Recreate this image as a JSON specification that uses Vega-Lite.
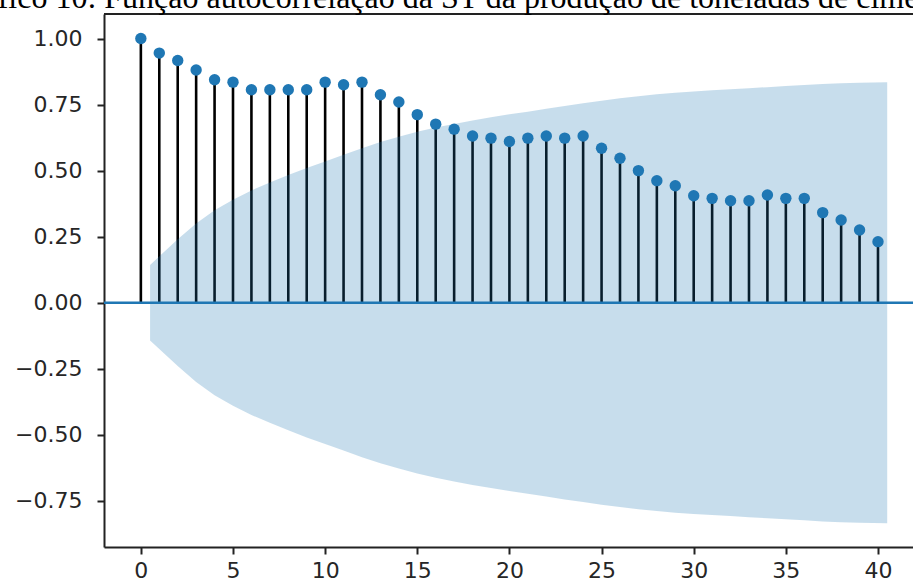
{
  "$schema": "https://vega.github.io/schema/vega-lite/v6.json",
  "autosize": {"type": "none"},
  "width": 809,
  "height": 533,
  "padding": {"left": 104, "top": 14, "right": 0, "bottom": 39},
  "background": "white",
  "title": {
    "text": "Gráfico 10: Função autocorrelação da ST da produção de toneladas de cimento",
    "font": "Liberation Serif",
    "fontSize": 32,
    "fontWeight": "normal",
    "color": "#000000",
    "anchor": "middle",
    "baseline": "alphabetic",
    "offset": -27,
    "dx": -54
  },
  "datasets": {
    "acf": [
      {"lag": 0, "acf": 1.0},
      {"lag": 1, "acf": 0.945},
      {"lag": 2, "acf": 0.917},
      {"lag": 3, "acf": 0.881},
      {"lag": 4, "acf": 0.844},
      {"lag": 5, "acf": 0.835},
      {"lag": 6, "acf": 0.806},
      {"lag": 7, "acf": 0.806},
      {"lag": 8, "acf": 0.806},
      {"lag": 9, "acf": 0.806},
      {"lag": 10, "acf": 0.835},
      {"lag": 11, "acf": 0.825},
      {"lag": 12, "acf": 0.835},
      {"lag": 13, "acf": 0.787},
      {"lag": 14, "acf": 0.76},
      {"lag": 15, "acf": 0.712},
      {"lag": 16, "acf": 0.676},
      {"lag": 17, "acf": 0.657},
      {"lag": 18, "acf": 0.631},
      {"lag": 19, "acf": 0.623},
      {"lag": 20, "acf": 0.61},
      {"lag": 21, "acf": 0.623},
      {"lag": 22, "acf": 0.631},
      {"lag": 23, "acf": 0.623},
      {"lag": 24, "acf": 0.631},
      {"lag": 25, "acf": 0.585},
      {"lag": 26, "acf": 0.547},
      {"lag": 27, "acf": 0.5},
      {"lag": 28, "acf": 0.462},
      {"lag": 29, "acf": 0.443},
      {"lag": 30, "acf": 0.405},
      {"lag": 31, "acf": 0.395},
      {"lag": 32, "acf": 0.386},
      {"lag": 33, "acf": 0.386},
      {"lag": 34, "acf": 0.408},
      {"lag": 35, "acf": 0.395},
      {"lag": 36, "acf": 0.395},
      {"lag": 37, "acf": 0.341},
      {"lag": 38, "acf": 0.313},
      {"lag": 39, "acf": 0.275},
      {"lag": 40, "acf": 0.231}
    ],
    "band": [
      {"lag": 0.5, "hi": 0.143, "lo": -0.143},
      {"lag": 2, "hi": 0.24, "lo": -0.24},
      {"lag": 3, "hi": 0.3, "lo": -0.3},
      {"lag": 4, "hi": 0.35, "lo": -0.35},
      {"lag": 5, "hi": 0.39, "lo": -0.39},
      {"lag": 6, "hi": 0.425, "lo": -0.425},
      {"lag": 7, "hi": 0.455, "lo": -0.455},
      {"lag": 8, "hi": 0.483, "lo": -0.483},
      {"lag": 9, "hi": 0.51, "lo": -0.51},
      {"lag": 10, "hi": 0.535, "lo": -0.535},
      {"lag": 11, "hi": 0.56, "lo": -0.56},
      {"lag": 12, "hi": 0.585, "lo": -0.585},
      {"lag": 13, "hi": 0.608, "lo": -0.608},
      {"lag": 14, "hi": 0.628, "lo": -0.628},
      {"lag": 15, "hi": 0.647, "lo": -0.647},
      {"lag": 16, "hi": 0.663, "lo": -0.663},
      {"lag": 17, "hi": 0.677, "lo": -0.677},
      {"lag": 18, "hi": 0.69, "lo": -0.69},
      {"lag": 19, "hi": 0.702, "lo": -0.702},
      {"lag": 20, "hi": 0.713, "lo": -0.713},
      {"lag": 21, "hi": 0.723, "lo": -0.723},
      {"lag": 22, "hi": 0.734, "lo": -0.734},
      {"lag": 23, "hi": 0.745, "lo": -0.745},
      {"lag": 24, "hi": 0.755, "lo": -0.755},
      {"lag": 25, "hi": 0.765, "lo": -0.765},
      {"lag": 26, "hi": 0.774, "lo": -0.774},
      {"lag": 27, "hi": 0.782, "lo": -0.782},
      {"lag": 28, "hi": 0.789, "lo": -0.789},
      {"lag": 29, "hi": 0.795, "lo": -0.795},
      {"lag": 30, "hi": 0.8, "lo": -0.8},
      {"lag": 31, "hi": 0.804, "lo": -0.804},
      {"lag": 32, "hi": 0.808, "lo": -0.808},
      {"lag": 33, "hi": 0.812, "lo": -0.812},
      {"lag": 34, "hi": 0.816, "lo": -0.816},
      {"lag": 35, "hi": 0.82, "lo": -0.82},
      {"lag": 36, "hi": 0.824, "lo": -0.824},
      {"lag": 37, "hi": 0.828, "lo": -0.828},
      {"lag": 38, "hi": 0.831, "lo": -0.831},
      {"lag": 39, "hi": 0.833, "lo": -0.833},
      {"lag": 40.5, "hi": 0.835, "lo": -0.835}
    ],
    "one": [{"k": 1}]
  },
  "layer": [
    {
      "data": {"name": "acf"},
      "mark": {"type": "rule", "color": "#000000", "strokeWidth": 2.6},
      "encoding": {
        "x": {
          "field": "lag", "type": "quantitative",
          "scale": {"domain": [-2, 41.9], "nice": false, "zero": false},
          "axis": {"values": [0, 5, 10, 15, 20, 25, 30, 35, 40], "labelPadding": 6, "title": null}
        },
        "y": {
          "field": "acf", "type": "quantitative",
          "scale": {"domain": [-0.925, 1.093], "nice": false, "zero": false},
          "axis": {"values": [-0.75, -0.5, -0.25, 0, 0.25, 0.5, 0.75, 1], "format": ".2f", "labelPadding": 15, "title": null}
        },
        "y2": {"datum": 0}
      }
    },
    {
      "data": {"name": "one"},
      "mark": {"type": "rule", "color": "#1f77b4", "strokeWidth": 2.5},
      "encoding": {"y": {"datum": 0}}
    },
    {
      "data": {"name": "one"},
      "mark": {"type": "rule", "color": "#222222", "strokeWidth": 2},
      "encoding": {"y": {"datum": 1.093}}
    },
    {
      "data": {"name": "acf"},
      "mark": {"type": "point", "filled": true, "color": "#1f77b4", "opacity": 1, "size": 130},
      "encoding": {
        "x": {"field": "lag", "type": "quantitative"},
        "y": {"field": "acf", "type": "quantitative"}
      }
    },
    {
      "data": {"name": "band"},
      "mark": {"type": "area", "color": "#1f77b4", "opacity": 0.25},
      "encoding": {
        "x": {"field": "lag", "type": "quantitative"},
        "y": {"field": "hi", "type": "quantitative"},
        "y2": {"field": "lo"}
      }
    }
  ],
  "config": {
    "view": {"stroke": null},
    "axis": {
      "grid": false,
      "domainColor": "#222222",
      "domainWidth": 2,
      "tickColor": "#222222",
      "tickWidth": 2,
      "tickSize": 7,
      "labelFont": "DejaVu Sans",
      "labelFontSize": 22,
      "labelColor": "#262626"
    }
  }
}
